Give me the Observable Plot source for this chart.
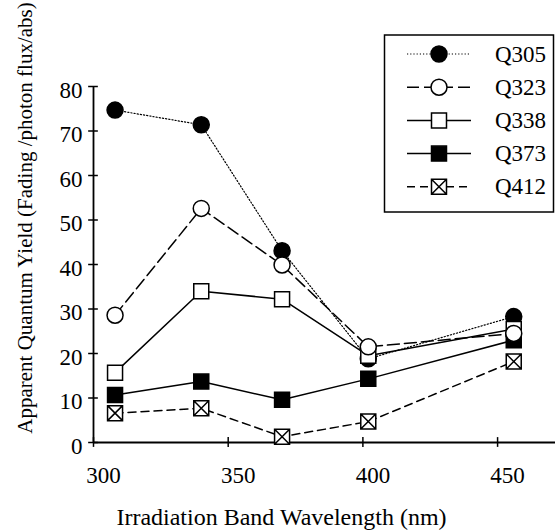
<!DOCTYPE html>
<html>
<head>
<meta charset="utf-8">
<script src="https://cdn.jsdelivr.net/npm/d3@7"></script>
<script src="https://cdn.jsdelivr.net/npm/@observablehq/plot@0.6"></script>
<style>
  html, body { margin: 0; padding: 0; background: #fff; }
  svg { display: block; }
  svg text { font-family: "Times New Roman", "Liberation Serif", Times, serif !important; }
</style>
</head>
<body>
<div id="chart"></div>
<script>
// ---- data ----
const wavelengths = [308, 340, 370, 402, 456];
const seriesNames = ["Q305", "Q323", "Q338", "Q373", "Q412"];
const q305 = [74.7, 71.4, 43.1, 18.8, 28.3];
const q323 = [28.6, 52.6, 39.9, 21.5, 24.5];
const q338 = [15.7, 34.0, 32.2, 19.5, 25.5];
const q373 = [10.7, 13.7, 9.6, 14.3, 23.0];
const q412 = [6.6, 7.7, 1.3, 4.7, 18.2];
const xTicks = [300, 350, 400, 450];
const yTicks = [0, 10, 20, 30, 40, 50, 60, 70, 80];
const xTitle = "Irradiation Band Wavelength (nm)";
const yTitle = "Apparent Quantum Yield (Fading /photon flux/abs)";

const values = [q305, q323, q338, q373, q412];
const rows = seriesNames.flatMap((s, i) => wavelengths.map((w, j) => ({series: s, x: w, y: values[i][j]})));

const FONT = "'Times New Roman', 'Liberation Serif', Times, serif";

// crossed square symbol
const crossSquare = {
  draw(context, size) {
    const s = Math.sqrt(size) / 2;
    context.moveTo(-s, -s); context.lineTo(s, -s); context.lineTo(s, s); context.lineTo(-s, s); context.closePath();
    context.moveTo(-s, -s); context.lineTo(s, s);
    context.moveTo(s, -s); context.lineTo(-s, s);
  }
};

const styles = {
  Q305: {symbol: "circle", fill: "black", dash: "1.2,2", r: 8, width: 1.2},
  Q323: {symbol: "circle", fill: "white", dash: "12,5", r: 8, width: 1.5},
  Q338: {symbol: "square", fill: "white", dash: null, r: 8.46, width: 1.5},
  Q373: {symbol: "square", fill: "black", dash: null, r: 8.46, width: 1.5},
  Q412: {symbol: crossSquare, fill: "white", dash: "8,5", r: 8.46, width: 1.5}
};
const dotOrder = ["Q305", "Q373", "Q338", "Q412", "Q323"];

const lineMarks = seriesNames.map(s => Plot.line(rows.filter(d => d.series === s), {
  x: "x", y: "y", stroke: "black", strokeWidth: styles[s].width,
  strokeDasharray: styles[s].dash || undefined
}));
const dotMarks = dotOrder.map(s => Plot.dot(rows.filter(d => d.series === s), {
  x: "x", y: "y", r: styles[s].r, symbol: styles[s].symbol,
  fill: styles[s].fill, stroke: "black", strokeWidth: 1.5
}));

const plot = Plot.plot({
  width: 555, height: 532,
  marginLeft: 93, marginRight: 0, marginTop: 86, marginBottom: 90,
  x: {domain: [300, 471.5]},
  y: {domain: [0, 80]},
  style: {fontFamily: FONT, fontSize: "23px", background: "white", color: "black"},
  marks: [
    Plot.axisX({ticks: xTicks, tickSize: 0, tickPadding: 24, dx: 10, label: null, fontSize: 23}),
    Plot.axisY({ticks: yTicks, tickSize: 0, tickPadding: 11, dy: 4, label: null, fontSize: 23}),
    Plot.ruleX(xTicks, {x: d => d, y1: -1.1, y2: 1.1, stroke: "black", strokeWidth: 1.5}),
    Plot.ruleY(yTicks, {y: d => d, x1: 298.2, x2: 301.8, stroke: "black", strokeWidth: 1.5}),
    Plot.ruleX([300], {stroke: "black", strokeWidth: 1.8}),
    Plot.ruleY([0], {stroke: "black", strokeWidth: 1.8}),
    ...lineMarks,
    ...dotMarks
  ]
});
document.getElementById("chart").appendChild(plot);

// titles and legend
const svg = d3.select(plot);
svg.append("text").attr("x", 281.5).attr("y", 525).attr("text-anchor", "middle")
  .style("font-family", FONT).attr("font-size", 24).attr("fill", "black").text(xTitle);
svg.append("text").attr("transform", "translate(32,218) rotate(-90)").attr("text-anchor", "middle")
  .style("font-family", FONT).attr("font-size", 21).attr("fill", "black").text(yTitle);

const lg = svg.append("g");
lg.append("rect").attr("x", 384.5).attr("y", 35).attr("width", 169).attr("height", 177)
  .attr("fill", "white").attr("stroke", "black").attr("stroke-width", 1.5);
seriesNames.forEach((s, i) => {
  const st = styles[s];
  const cy = 54 + i * 33.2;
  lg.append("line").attr("x1", 407).attr("x2", 471).attr("y1", cy).attr("y2", cy)
    .attr("stroke", "black").attr("stroke-width", st.width)
    .attr("stroke-dasharray", st.dash);
  const type = st.symbol === "circle" ? d3.symbolCircle : st.symbol === "square" ? d3.symbolSquare : crossSquare;
  lg.append("path").attr("transform", `translate(439,${cy})`)
    .attr("d", d3.symbol(type, Math.PI * st.r * st.r)())
    .attr("fill", st.fill).attr("stroke", "black").attr("stroke-width", 1.5);
  lg.append("text").attr("x", 495).attr("y", cy + 7.5).attr("text-anchor", "start")
    .style("font-family", FONT).attr("font-size", 23).attr("fill", "black").text(s);
});
</script>
</body>
</html>
